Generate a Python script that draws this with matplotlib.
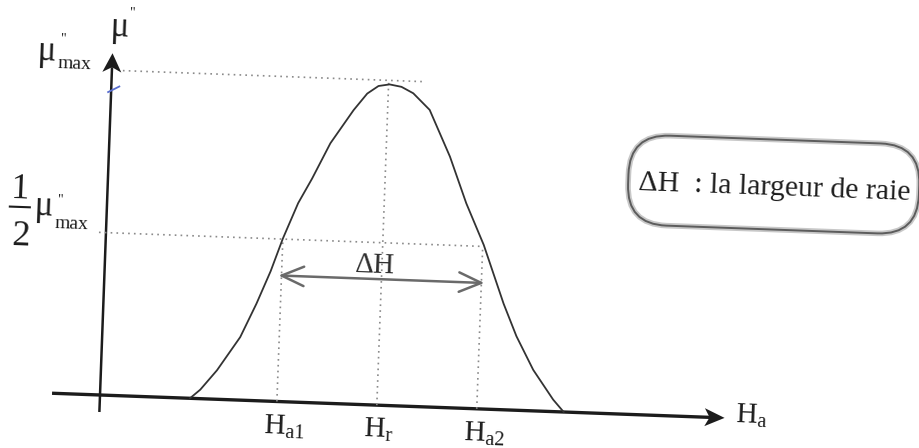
import matplotlib.pyplot as plt
from matplotlib.patches import Polygon, FancyBboxPatch, FancyArrowPatch, ArrowStyle
from matplotlib.transforms import Affine2D

# absorption line mu''(Ha), sampled along the curve
field = [90, 100, 116, 138, 153, 166, 177, 191, 204, 221, 243, 256, 267, 278,
         290, 302, 319, 341, 359, 378, 400, 414, 432, 453, 464]
mu_abs = [0, 9, 29, 63, 97, 130, 163, 199, 224, 260, 294, 311, 319, 321,
          319, 313, 297, 251, 205, 164, 106, 74, 41, 12, 0]

mu_max = 325
h_a1, h_r, h_a2 = 177, 277, 377
arrow_level = 126

field_axis = (-48, 625)
mu_axis = (-17, 342)

field_ticks = [h_a1, h_r, h_a2]
tick_labels = [r'$\mathrm{H}_{\mathrm{a1}}$', r'$\mathrm{H}_{\mathrm{r}}$',
               r'$\mathrm{H}_{\mathrm{a2}}$']
note = 'ΔH  : la largeur de raie'

TILT = -2.1
INK = '#1c1c1c'
DOT = dict(color='#8a8a8a', lw=1.2, linestyle=(0, (1, 2.5)))


def arrow_head(ax, tr, tip, direction, length=19, half=9.5, notch=5):
    dx, dy = direction
    px, py = -dy, dx
    x, y = tip
    bx, by = x - dx * length, y - dy * length
    nx, ny = x - dx * (length - notch), y - dy * (length - notch)
    pts = [(x, y), (bx + px * half, by + py * half), (nx, ny),
           (bx - px * half, by - py * half)]
    ax.add_patch(Polygon(pts, closed=True, facecolor=INK, lw=0, transform=tr))


def label(ax, tr, u, v, s, size, ha='left', color=INK):
    ax.text(u, v, s, size=size, ha=ha, va='baseline', color=color,
            rotation=TILT, rotation_mode='anchor', transform=tr)


def main():
    plt.rcParams['font.family'] = ['Liberation Serif', 'DejaVu Serif']
    plt.rcParams['mathtext.fontset'] = 'custom'
    plt.rcParams['mathtext.rm'] = 'Liberation Serif'

    fig = plt.figure(figsize=(9.2, 4.48), dpi=100)
    ax = fig.add_axes([0, 0, 1, 1])
    ax.set_xlim(-100, 820)
    ax.set_ylim(-53, 395)
    ax.axis('off')
    tr = Affine2D().rotate_deg(TILT) + ax.transData

    # axes with arrow heads
    ax.plot([field_axis[0], field_axis[1] - 14], [0, 0], color=INK, lw=2.4,
            transform=tr, solid_capstyle='butt')
    ax.plot([0, 0], [mu_axis[0], mu_axis[1] - 14], color=INK, lw=1.8,
            transform=tr, solid_capstyle='butt')
    arrow_head(ax, tr, (field_axis[1], 0), (1, 0), length=20, half=9)
    arrow_head(ax, tr, (0, mu_axis[1]), (0, 1), length=19, half=9.5)

    # guide lines
    ax.plot([11, 311], [mu_max, mu_max], transform=tr, **DOT)
    ax.plot([-7, h_a2], [mu_max / 2, mu_max / 2], transform=tr, **DOT)
    ax.plot([h_a1, h_a1], [0, mu_max / 2], transform=tr, **DOT)
    ax.plot([h_a2, h_a2], [0, mu_max / 2], transform=tr, **DOT)
    ax.plot([h_r, h_r], [0, mu_max], transform=tr, **DOT)

    # the line itself
    ax.plot(field, mu_abs, color='#333333', lw=1.3, transform=tr)

    # linewidth arrow
    ax.add_patch(FancyArrowPatch(
        (h_a1 - 3, arrow_level), (h_a2 + 3, arrow_level),
        arrowstyle=ArrowStyle('<->', head_length=16, head_width=7),
        mutation_scale=1, shrinkA=0, shrinkB=0, color='#6a6a6a', lw=1.8,
        transform=tr))
    label(ax, tr, (h_a1 + h_a2) / 2 - 7, 132, 'ΔH', 21, ha='center',
          color='#2e2e2e')

    # field labels
    for pos, txt in zip(field_ticks, tick_labels):
        label(ax, tr, pos - 12, -32, txt, 21)
    label(ax, tr, 636, -4, r'$\mathrm{H}_{\mathrm{a}}$', 21)

    # mu'' labels
    label(ax, tr, -4, 359, 'μ', 25)
    label(ax, tr, 18, 379, '"', 10, ha='center')

    label(ax, tr, -76, 332, 'μ', 25)
    label(ax, tr, -50, 351, '"', 10, ha='center')
    label(ax, tr, -54, 325, 'max', 14)

    label(ax, tr, -87, 194, '1', 26, ha='center')
    ax.plot([-97, -77], [185, 185], color=INK, lw=1.5, transform=tr)
    label(ax, tr, -85, 147, '2', 26, ha='center')
    label(ax, tr, -73, 177, 'μ', 25)
    label(ax, tr, -47, 190, '"', 10, ha='center')
    label(ax, tr, -51, 165, 'max', 14)

    # pen mark on the axis
    ax.plot([-3, 8], [303, 309], color='#5a6fd0', lw=1.3, transform=tr)

    # legend box
    ax.add_patch(FancyBboxPatch(
        (520, 190), 291, 90, boxstyle='round,pad=0,rounding_size=40',
        fill=False, ec='#c8c8c8', lw=4, transform=tr))
    ax.add_patch(FancyBboxPatch(
        (520, 190), 291, 90, boxstyle='round,pad=0,rounding_size=40',
        fill=False, ec='#5c5c5c', lw=1.4, transform=tr))
    label(ax, tr, 530, 225, note, 21.5)

    fig.savefig('out.png', dpi=100, facecolor='white')


if __name__ == '__main__':
    main()
